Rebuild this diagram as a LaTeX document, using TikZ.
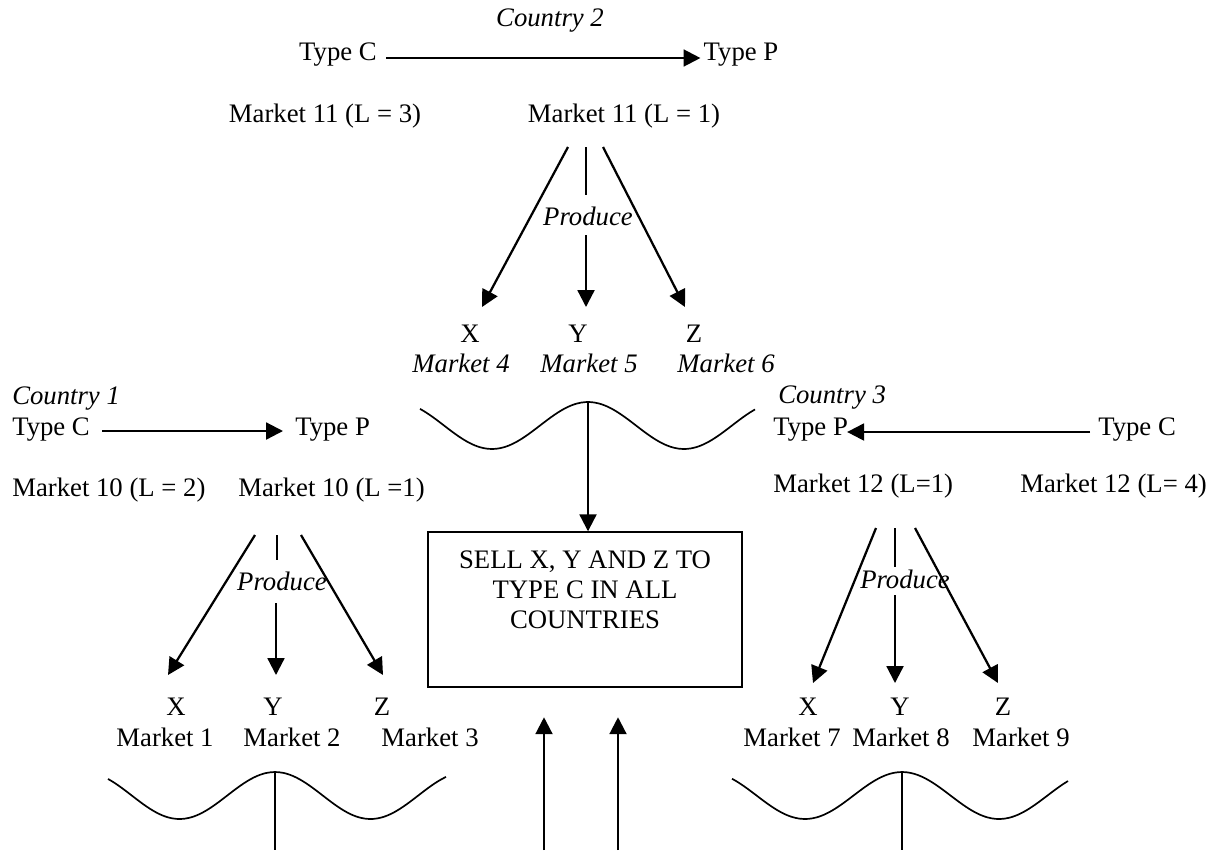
\documentclass[tikz,border=0pt]{standalone}
\usepackage{fontspec}
\setmainfont{Liberation Serif}
\usetikzlibrary{arrows.meta,positioning}

\tikzset{
  lbl/.style={inner sep=0pt, anchor=base},
  lblw/.style={inner sep=0pt, anchor=base west},
  arr/.style={line width=1.6pt, -{Triangle[length=12pt,width=12pt]}},
  stem/.style={line width=0.9pt},
  wave/.style={line width=1.2pt},
  box/.style={draw, line width=1pt, minimum width=7.85cm, minimum height=3.875cm},
}

\begin{document}
\begin{tikzpicture}[x=0.025cm,y=-0.025cm,font=\fontsize{19}{21.3}\selectfont]
\useasboundingbox (0,0) rectangle (1220,850);

% Country 2
\node[lbl,font=\fontsize{19}{21.3}\selectfont\itshape] (c2) at (550,26) {Country 2};
\node[lbl] (tc2) at (338,60) {Type C};
\node[lbl] (tp2) at (741,60) {Type P};
\node[lbl] (m11c) at (325,122) {Market 11 (L = 3)};
\node[lbl] (m11p) at (624,122) {Market 11 (L = 1)};
\draw[arr] ([shift={(9,-2)}]tc2.base east) -- ([shift={(-3,-2)}]tp2.base west);

\node[lbl,font=\fontsize{19}{21.3}\selectfont\itshape] (pr2) at (588,225) {Produce};
\node[lbl] (x2) at (470,342) {X};
\node[lbl] (y2) at (578,342) {Y};
\node[lbl] (z2) at (694,342) {Z};
\node[lbl,font=\fontsize{19}{21.3}\selectfont\itshape] (mk4) at (461,372) {Market 4};
\node[lbl,font=\fontsize{19}{21.3}\selectfont\itshape] (mk5) at (589,372) {Market 5};
\node[lbl,font=\fontsize{19}{21.3}\selectfont\itshape] (mk6) at (726,372) {Market 6};

\coordinate (f2l) at (568,147); \coordinate (t2l) at (482,307);
\coordinate (f2m) at (586,147); \coordinate (g2m) at (586,195);
\coordinate (h2m) at (586,235); \coordinate (t2m) at (586,307);
\coordinate (f2r) at (603,147); \coordinate (t2r) at (685,307);
\draw[arr] (f2l) -- (t2l);
\draw[stem] (f2m) -- (g2m);
\draw[arr] (h2m) -- (t2m);
\draw[arr] (f2r) -- (t2r);

\draw[wave] plot[domain=-168:167,samples=80,smooth] ({588+\x},{425.5-23.5*cos(\x*1.875)}); % top wave
\coordinate (w2) at (588,402);

% box
\node[box] (sell) at (585,609.5) {};
\node[inner sep=0pt, align=center, font=\fontsize{19}{21.3}\selectfont, below=14pt of sell.north] (selltxt) {SELL X, Y AND Z TO\\TYPE C IN ALL\\COUNTRIES};
\draw[arr] (w2) -- (w2 |- sell.north);
\coordinate (u1) at (544,850); \coordinate (u2) at (618,850);
\draw[arr] (u1) -- ([yshift=-21]u1 |- sell.south);
\draw[arr] (u2) -- ([yshift=-21]u2 |- sell.south);

% Country 1
\node[lblw,font=\fontsize{19}{21.3}\selectfont\itshape] (c1) at (12,404) {Country 1};
\node[lblw] (tc1) at (12,435) {Type C};
\node[lblw] (tp1) at (295,435) {Type P};
\node[lblw] (m10c) at (12,496) {Market 10 (L = 2)};
\node[lblw] (m10p) at (238,496) {Market 10 (L =1)};
\draw[arr] ([shift={(12,-4)}]tc1.base east) -- ([shift={(-12,-4)}]tp1.base west);

\node[lbl,font=\fontsize{19}{21.3}\selectfont\itshape] (pr1) at (282,590) {Produce};
\node[lbl] (x1) at (176,715) {X};
\node[lbl] (y1) at (273,715) {Y};
\node[lbl] (z1) at (382,715) {Z};
\node[lbl] (mk1) at (165,746) {Market 1};
\node[lbl] (mk2) at (292,746) {Market 2};
\node[lbl] (mk3) at (430,746) {Market 3};

\coordinate (f1l) at (255,535); \coordinate (t1l) at (168,675);
\coordinate (f1m) at (277,535); \coordinate (g1m) at (277,560);
\coordinate (h1m) at (276,603); \coordinate (t1m) at (276,675);
\coordinate (f1r) at (301,535); \coordinate (t1r) at (383,675);
\draw[arr] (f1l) -- (t1l);
\draw[stem] (f1m) -- (g1m);
\draw[arr] (h1m) -- (t1m);
\draw[arr] (f1r) -- (t1r);

\draw[wave] plot[domain=-167:171,samples=80,smooth] ({275+\x},{795.5-23.5*cos(\x*1.885)}); % left wave
\coordinate (w1) at (275,772); \coordinate (e1) at (275,850);
\draw[stem] (w1) -- (e1);

% Country 3
\node[lblw,font=\fontsize{19}{21.3}\selectfont\itshape] (c3) at (778,403) {Country 3};
\node[lblw] (tp3) at (773,435) {Type P};
\node[lblw] (tc3) at (1098,435) {Type C};
\node[lblw] (m12p) at (773,492) {Market 12 (L=1)};
\node[lblw] (m12c) at (1020,492) {Market 12 (L= 4)};
\draw[arr] ([shift={(-8,-3)}]tc3.base west) -- ([shift={(-1,-3)}]tp3.base east);

\node[lbl,font=\fontsize{19}{21.3}\selectfont\itshape] (pr3) at (905,588) {Produce};
\node[lbl] (x3) at (808,715) {X};
\node[lbl] (y3) at (900,715) {Y};
\node[lbl] (z3) at (1003,715) {Z};
\node[lbl] (mk7) at (792,746) {Market 7};
\node[lbl] (mk8) at (901,746) {Market 8};
\node[lbl] (mk9) at (1021,746) {Market 9};

\coordinate (f3l) at (876,528); \coordinate (t3l) at (813,683);
\coordinate (f3m) at (895,528); \coordinate (g3m) at (895,567);
\coordinate (h3m) at (895,595); \coordinate (t3m) at (895,683);
\coordinate (f3r) at (915,528); \coordinate (t3r) at (998,683);
\draw[arr] (f3l) -- (t3l);
\draw[stem] (f3m) -- (g3m);
\draw[arr] (h3m) -- (t3m);
\draw[arr] (f3r) -- (t3r);

\draw[wave] plot[domain=-170:166,samples=80,smooth] ({902+\x},{795.5-23.5*cos(\x*1.856)}); % right wave
\coordinate (w3) at (902,772); \coordinate (e3) at (902,850);
\draw[stem] (w3) -- (e3);

\end{tikzpicture}
\end{document}
